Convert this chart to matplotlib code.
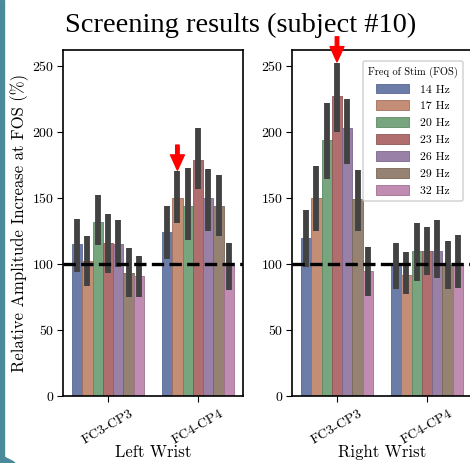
import numpy as np
import matplotlib
matplotlib.use("Agg")
import matplotlib.pyplot as plt
from matplotlib.patches import Rectangle, Polygon

plt.rcParams['font.family'] = 'serif'
plt.rcParams['font.serif'] = ['cmr10']
plt.rcParams['axes.formatter.use_mathtext'] = True
plt.rcParams['mathtext.fontset'] = 'cm'

freqs = ['14 Hz', '17 Hz', '20 Hz', '23 Hz', '26 Hz', '29 Hz', '32 Hz']
channels = ['FC3-CP3', 'FC4-CP4']
wrists = ['Left Wrist', 'Right Wrist']

# mean, ci low, ci high -- rows = freq, cols = channel
left_mean = np.array([[115, 124], [102, 150], [132, 144], [116, 179],
                      [115, 150], [93, 144], [91, 99]])
left_lo = np.array([[94, 104], [83, 131], [114, 118], [93, 157],
                    [98, 125], [75, 121], [75, 80]])
left_hi = np.array([[134, 144], [121, 170], [152, 173], [138, 203],
                    [133, 172], [112, 167], [106, 116]])

right_mean = np.array([[120, 99], [150, 92], [194, 110], [227, 110],
                       [203, 110], [149, 99], [95, 99]])
right_lo = np.array([[98, 81], [125, 77], [164, 87], [200, 92],
                     [176, 89], [125, 81], [76, 82]])
right_hi = np.array([[141, 116], [174, 109], [222, 131], [252, 128],
                     [225, 133], [171, 117], [113, 122]])

# best freq marked with an arrow: (channel index, freq index)
best = [(1, 1), (0, 3)]

colors = ['#6c7ca8', '#c48e76', '#76a57e', '#b06e6e', '#9880a6', '#968272', '#c08cb2']
edges = ['#5a6890', '#a0705c', '#5e8a66', '#8f5656', '#7c6689', '#7a6858', '#a07090']

fig = plt.figure(figsize=(4.7, 4.63), dpi=100)
W, H = 470, 463
ax1 = fig.add_axes([63 / W, (H - 396) / H, 180 / W, 346 / H])
ax2 = fig.add_axes([292 / W, (H - 396) / H, 180 / W, 346 / H])

n = len(freqs)
bw = 0.8 / n
for ax, mean, lo, hi, wrist, (bc, bf) in zip([ax1, ax2], [left_mean, right_mean],
                                             [left_lo, right_lo], [left_hi, right_hi],
                                             wrists, best):
    x0 = np.arange(len(channels))
    for i in range(n):
        xs = x0 - 0.4 + bw * (i + 0.5)
        ax.bar(xs, mean[i], width=bw, color=colors[i], label=freqs[i],
               edgecolor=edges[i], linewidth=0.6, zorder=2)
        for j in range(len(channels)):
            ax.plot([xs[j], xs[j]], [lo[i, j], hi[i, j]], color='#424242',
                    lw=4.2, solid_capstyle='butt', zorder=3)
    ax.axhline(100, color='k', ls='--', lw=2.4, zorder=4)
    ax.set_xlim(-0.5, 1.5)
    ax.set_ylim(0, 262)
    ax.set_yticks([0, 50, 100, 150, 200, 250])
    ax.set_xticks(x0)
    ax.set_xticklabels(channels, rotation=30, fontsize=10)
    ax.tick_params(axis='y', labelsize=10, length=4.5, pad=2)
    ax.tick_params(axis='x', length=4.5)
    ax.set_xlabel(wrist, fontsize=12, labelpad=-1)
    for s in ax.spines.values():
        s.set_linewidth(1.2)
    xa = bc - 0.4 + bw * (bf + 0.5)
    tip = hi[bf, bc] + 1
    ax.annotate('', xy=(xa, tip), xytext=(xa, tip + 19),
                arrowprops=dict(facecolor='red', edgecolor='red', width=2.5,
                                headwidth=10, headlength=11),
                annotation_clip=False, zorder=6)

ax1.set_ylabel('Relative Amplitude Increase at FOS (%)', fontsize=12)
ax1.yaxis.set_label_coords(-0.19, 0.5)
leg = ax2.legend(title='Freq of Stim (FOS)', fontsize=8.5, title_fontsize=7.5,
                 loc='upper right', bbox_to_anchor=(0.985, 0.985),
                 handlelength=2.8, handleheight=0.9, labelspacing=0.5,
                 borderpad=0.45, handletextpad=0.9)
leg.get_frame().set_linewidth(1.2)

fig.text(0.513, (H - 32) / H, 'Screening results (subject #10)', ha='center',
         va='baseline', fontsize=20.5, family='Liberation Serif')

# teal border on the left edge of the screenshot
teal = '#4a8a9a'
fig.patches.append(Rectangle((0, 0), 4 / W, 1, transform=fig.transFigure,
                             color=teal, zorder=0))
fig.patches.append(Polygon([(0, 0), (15 / W, 0), (12 / W, 2 / H), (8 / W, 4 / H),
                            (4 / W, 6 / H), (0, 6 / H)],
                           closed=True, transform=fig.transFigure,
                           color=teal, zorder=0))

fig.savefig('out.png', dpi=100)
